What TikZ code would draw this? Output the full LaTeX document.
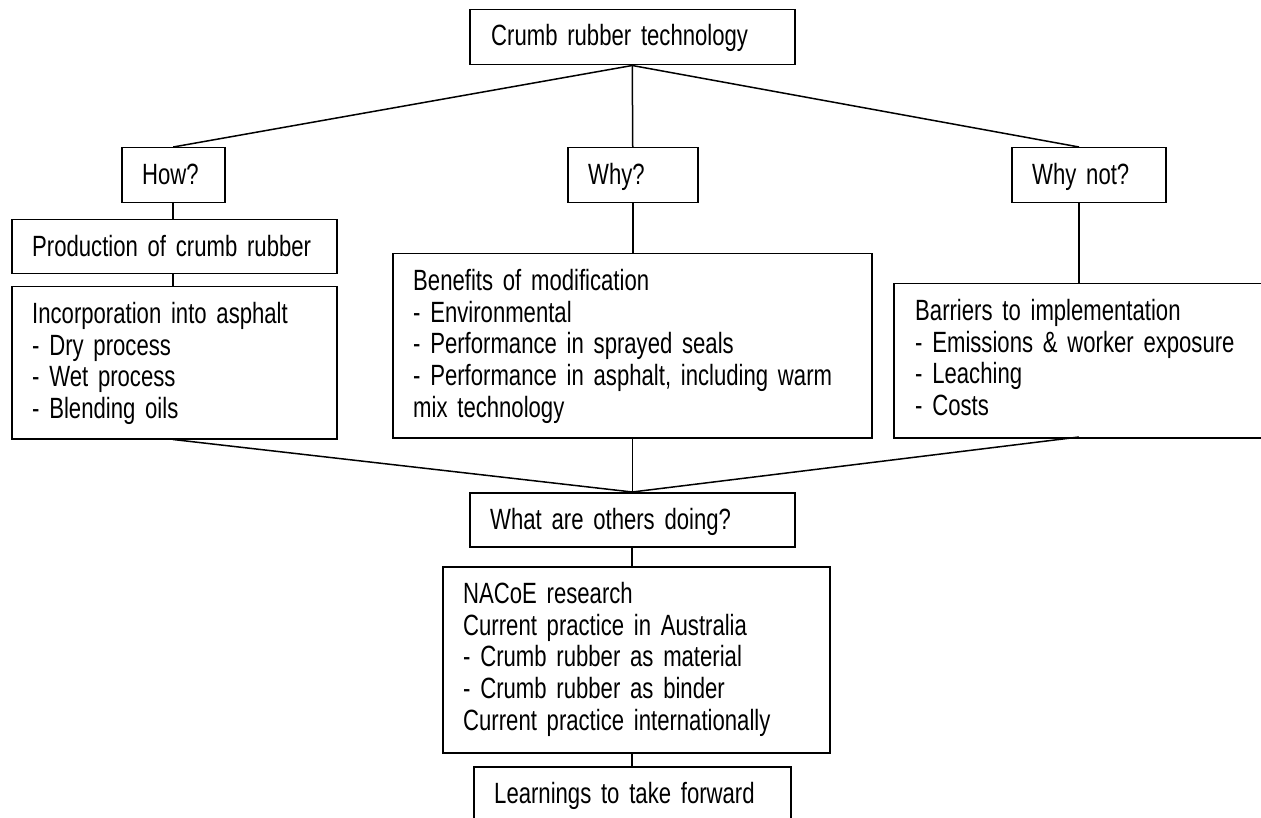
\documentclass[tikz,border=0pt]{standalone}
\usepackage{fontspec}
\setmainfont{Liberation Sans}[FakeStretch=0.755]
\newcommand{\diagfont}{\fontsize{29.3}{31.7}\selectfont}
\tikzset{
  box/.style={draw, line width=1.5pt, rectangle, inner sep=0pt, anchor=north west},
  txt/.style={anchor=base west, inner sep=0pt, align=left, text width=480pt,
              font=\diagfont},
  link/.style={line width=1.5pt}
}
\begin{document}
\begin{tikzpicture}[x=1pt,y=-1pt]
\useasboundingbox (0,0) rectangle (1261,818);
\clip (0,0) rectangle (1261,818);
% boxes
\node[box, minimum width=325pt, minimum height=55pt]  (top)    at (469,9)    {};
\node[box, minimum width=103pt, minimum height=55pt]  (how)    at (121,147)  {};
\node[box, minimum width=130pt, minimum height=55pt]  (why)    at (567,147)  {};
\node[box, minimum width=154pt, minimum height=55pt]  (whynot) at (1011,147) {};
\node[box, minimum width=325pt, minimum height=54pt]  (prod)   at (11,219)   {};
\node[box, minimum width=325pt, minimum height=152pt] (inc)    at (11,286)   {};
\node[box, minimum width=479pt, minimum height=184pt] (ben)    at (392,253)  {};
\node[box, minimum width=382pt, minimum height=154pt] (bar)    at (893,283)  {};
\node[box, minimum width=325pt, minimum height=54pt]  (what)   at (469,492)  {};
\node[box, minimum width=387pt, minimum height=186pt] (nacoe)  at (442,566)  {};
\node[box, minimum width=317pt, minimum height=64pt]  (learn)  at (473,766)  {};
% texts
\node[txt] (ttop)    at (491,46)    {Crumb rubber technology};
\node[txt] (thow)    at (142,184.5) {How?};
\node[txt] (twhy)    at (588,184.5) {Why?};
\node[txt] (twhynot) at (1032,184.5){Why not?};
\node[txt] (tprod)   at (32,256.5)  {Production of crumb rubber};
\node[txt] (tinc)    at (32,323.5)  {Incorporation into asphalt\\- Dry process\\- Wet process\\- Blending oils};
\node[txt] (tben)    at (413,290.5) {Benefits of modification\\- Environmental\\- Performance in sprayed seals\\- Performance in asphalt, including warm\\mix technology};
\node[txt] (tbar)    at (915,320.5) {Barriers to implementation\\- Emissions \& worker exposure\\- Leaching\\- Costs};
\node[txt] (twhat)   at (490,529.5) {What are others doing?};
\node[txt] (tnacoe)  at (463,603.5) {NACoE research\\Current practice in Australia\\- Crumb rubber as material\\- Crumb rubber as binder\\Current practice internationally};
\node[txt] (tlearn)  at (494,803.5) {Learnings to take forward};
% connector end points
\coordinate (wnx) at (1079,147);
\coordinate (bx)  at (1079,283);
\coordinate (bxs) at (1079,437);
\coordinate (ax)  at (173,202);
\coordinate (mx)  at (632,546);
% connectors
\draw[link] (top.south) -- (how.north);
\draw[link] (top.south) -- (why.north);
\draw[link] (top.south) -- (wnx);
\draw[link] (ax) -- (ax |- prod.north);
\draw[link] (ax |- prod.south) -- (ax |- inc.north);
\draw[link] (why.south) -- (why.south |- ben.north);
\draw[link] (wnx |- whynot.south) -- (bx);
\draw[link] (ax |- inc.south) -- (what.north);
\draw[link] (ben.south) -- (what.north);
\draw[link] (bxs) -- (what.north);
\draw[link] (mx) -- (mx |- nacoe.north);
\draw[link] (mx |- nacoe.south) -- (mx |- learn.north);
\end{tikzpicture}
\end{document}
